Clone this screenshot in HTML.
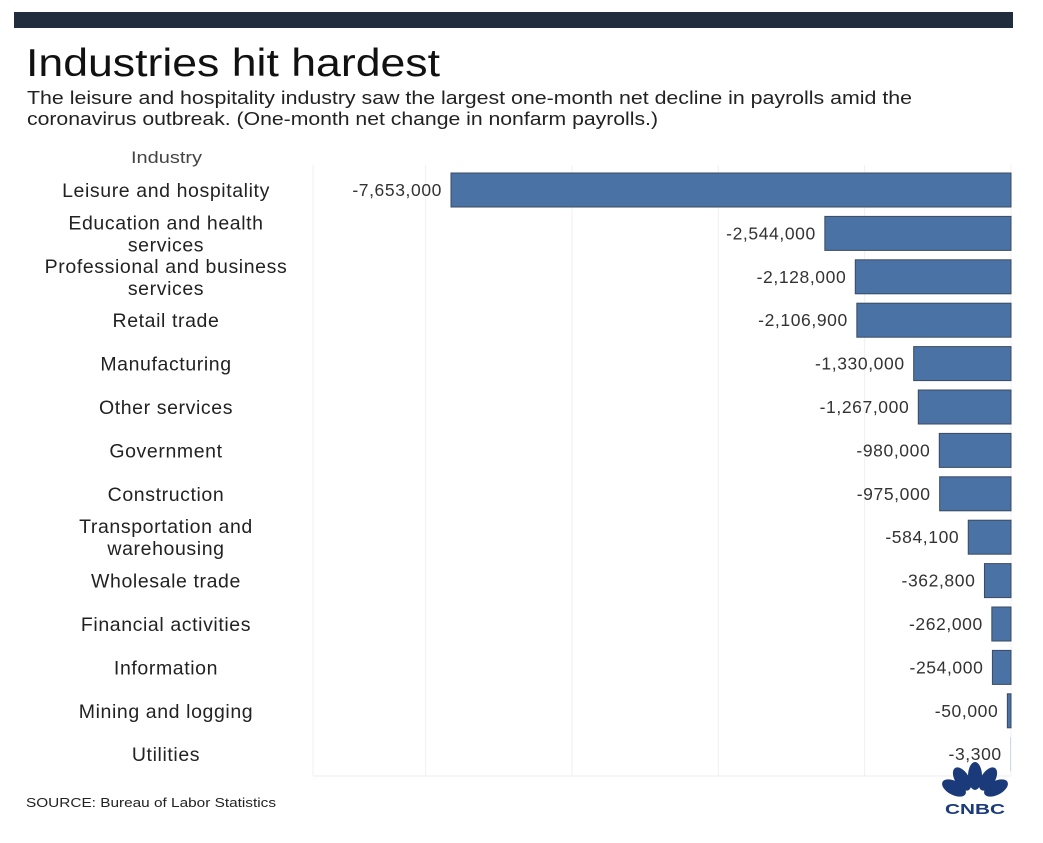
<!DOCTYPE html>
<html><head><meta charset="utf-8"><style>
body{margin:0;background:#fff;width:1043px;height:838px;overflow:hidden;font-family:"Liberation Sans",sans-serif;}
</style></head><body>
<svg width="1043" height="838" xmlns="http://www.w3.org/2000/svg">
<rect x="14" y="12" width="999" height="16" fill="#1f2d3d"/>
<text x="26" y="76" font-size="39" fill="#111" textLength="414" lengthAdjust="spacingAndGlyphs">Industries hit hardest</text>
<text x="27" y="104" font-size="18.5" fill="#222" textLength="885" lengthAdjust="spacingAndGlyphs">The leisure and hospitality industry saw the largest one-month net decline in payrolls amid the</text>
<text x="27" y="125" font-size="18.5" fill="#222" textLength="631" lengthAdjust="spacingAndGlyphs">coronavirus outbreak. (One-month net change in nonfarm payrolls.)</text>
<text x="131" y="163" font-size="17" fill="#444" textLength="71" lengthAdjust="spacingAndGlyphs">Industry</text>
<g id="grid"></g>
<g id="bars"></g>
<text x="26" y="807" font-size="13" fill="#222" textLength="250" lengthAdjust="spacingAndGlyphs">SOURCE: Bureau of Labor Statistics</text>
<g transform="translate(975,796)">
<g fill="#1b3a7a">
<ellipse cx="-21" cy="-8" rx="7" ry="13" transform="rotate(-62 -21 -8)"/>
<ellipse cx="-13" cy="-17" rx="7" ry="13" transform="rotate(-32 -13 -17)"/>
<ellipse cx="0" cy="-20" rx="7" ry="14"/>
<ellipse cx="13" cy="-17" rx="7" ry="13" transform="rotate(32 13 -17)"/>
<ellipse cx="21" cy="-8" rx="7" ry="13" transform="rotate(62 21 -8)"/>
</g>
<text x="0" y="18" font-size="15" font-weight="bold" fill="#1b3a7a" text-anchor="middle" textLength="60" lengthAdjust="spacingAndGlyphs">CNBC</text>
</g>
</svg>
<script>
const categories=[["Leisure and hospitality"],["Education and health","services"],["Professional and business","services"],["Retail trade"],["Manufacturing"],["Other services"],["Government"],["Construction"],["Transportation and","warehousing"],["Wholesale trade"],["Financial activities"],["Information"],["Mining and logging"],["Utilities"]];
const values=[-7653000,-2544000,-2128000,-2106900,-1330000,-1267000,-980000,-975000,-584100,-362800,-262000,-254000,-50000,-3300];
const valueLabels=["-7,653,000","-2,544,000","-2,128,000","-2,106,900","-1,330,000","-1,267,000","-980,000","-975,000","-584,100","-362,800","-262,000","-254,000","-50,000","-3,300"];
const gridTicks=[0,-2000000,-4000000,-6000000,-8000000];
const NS="http://www.w3.org/2000/svg";
const x0=1011,k=560/7653000,y0=190,step=43.4,bh=34;
const xs=v=>x0+v*k;
const ys=i=>y0+i*step;
const grid=document.getElementById('grid'),bars=document.getElementById('bars');
function mk(tag,at,par){const e=document.createElementNS(NS,tag);for(const a in at)e.setAttribute(a,at[a]);par.appendChild(e);return e;}
gridTicks.forEach(t=>{const l=mk('line',{x1:xs(t),x2:xs(t),y1:165,y2:776,stroke:'#f0f0f0','stroke-width':1},grid);

});
const base=mk('line',{x1:313,x2:1011,y1:776,y2:776,stroke:'#eeeeee'},grid);


const lb=mk('line',{x1:313,x2:313,y1:165,y2:776,stroke:'#f2f2f2'},grid);


values.forEach((v,i)=>{const c=ys(i),xl=xs(v),w=x0-xl;
const r=mk('rect',{x:xl,y:c-bh/2,width:w,height:bh,fill:'#4a72a4',stroke:w>1?'#3a4a62':'none','stroke-width':1},bars);


const t=mk('text',{x:xl-9,y:c+6,'font-size':17.5,fill:'#333','text-anchor':'end','letter-spacing':'0.6'},bars);t.textContent=valueLabels[i];


const lines=categories[i];
lines.forEach((s,j)=>{const ly=lines.length==1?c+7:c-4+j*22;
const ct=mk('text',{x:166,y:ly,'font-size':19.5,fill:'#222','text-anchor':'middle','letter-spacing':'0.6'},bars);ct.textContent=s;

});
});
</script>
</body></html>
